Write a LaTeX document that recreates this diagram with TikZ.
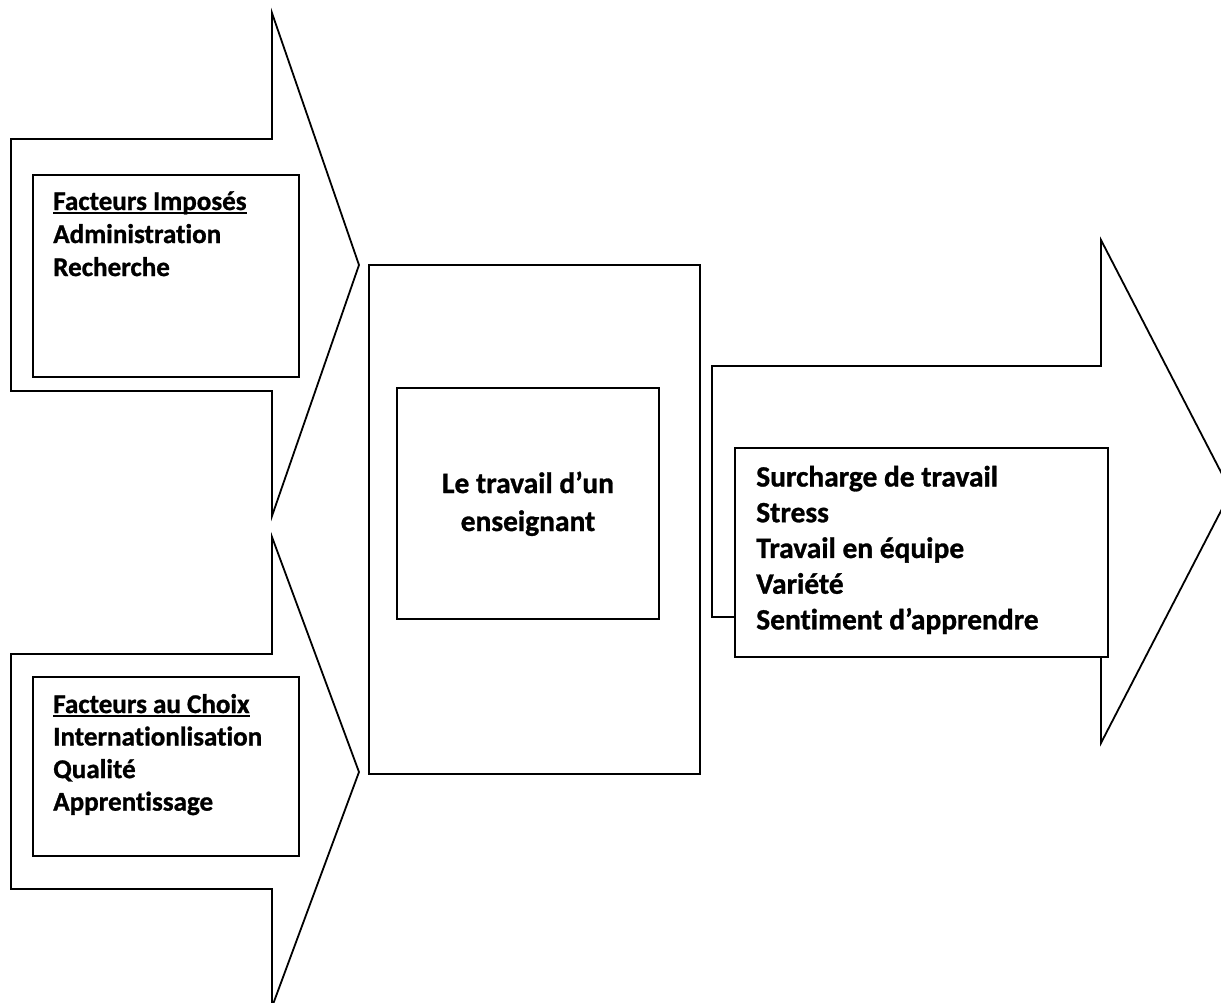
\documentclass[tikz,border=0pt]{standalone}
\usepackage{fontspec}
\setmainfont{Carlito}[Ligatures={NoCommon}, BoldFeatures={FakeBold=1.0}]
\newcommand\myul[1]{\setbox0\hbox{#1}\rlap{\vrule width\wd0 height -1.4pt depth 3.0pt}\box0}
\newcommand\stackL[2]{\vtop{\baselineskip=#1\lineskiplimit=-100pt\lineskip=0pt #2}}
\tikzset{
  shape line/.style={draw=black, line width=1.35pt, line join=miter},
  boxline/.style={draw=black, line width=1.35pt, fill=white},
  smalltext/.style={inner sep=0pt, anchor=base west, font=\bfseries\fontsize{20.3pt}{24.75pt}\selectfont},
  bigtext/.style={inner sep=0pt, font=\bfseries\fontsize{22.1pt}{27pt}\selectfont},
}
\begin{document}
\begin{tikzpicture}[x=0.75pt,y=-0.75pt]
\path[use as bounding box, clip] (0,0) rectangle (1221,1003);
\fill[white] (0,0) rectangle (1221,1003);
% arrows
\draw[shape line] (11,139) -- (272,139) -- (272,13) -- (359,265) -- (272,516) -- (272,391) -- (11,391) -- cycle;
\draw[shape line] (11,654) -- (272,654) -- (272,537) -- (359,772) -- (272,1007) -- (272,889) -- (11,889) -- cycle;
\draw[shape line] (712,366) -- (1101,366) -- (1101,240) -- (1231,491.5) -- (1101,743) -- (1101,617) -- (712,617) -- cycle;
% boxes
\draw[boxline] (33,175) rectangle (299,377);
\draw[boxline] (33,677) rectangle (299,856);
\draw[boxline] (369,265) rectangle (700,774);
\draw[boxline] (397,388) rectangle (659,619);
\draw[boxline] (735,448) rectangle (1108,657);
% texts
\node[smalltext] (t1) at (53,210) {\stackL{24.75pt}{\hbox{\myul{Facteurs Imposés}}\hbox{Administration}\hbox{Recherche}}};
\node[smalltext] (t2) at (53,713) {\stackL{24.4pt}{\hbox{\myul{Facteurs au Choix}}\hbox{Internationlisation}\hbox{Qualité}\hbox{Apprentissage}}};
\node[bigtext, anchor=base] (t3) at (528,493) {\stackL{28.5pt}{\hbox to 0pt{\hss Le travail d’un\hss}\hbox to 0pt{\hss enseignant\hss}}};
\node[bigtext, anchor=base west] (t4) at (756,486.5) {\stackL{26.8pt}{\hbox{Surcharge de travail}\hbox{Stress}\hbox{Travail en équipe}\hbox{Variété}\hbox{Sentiment d’apprendre}}};
\end{tikzpicture}
\end{document}
